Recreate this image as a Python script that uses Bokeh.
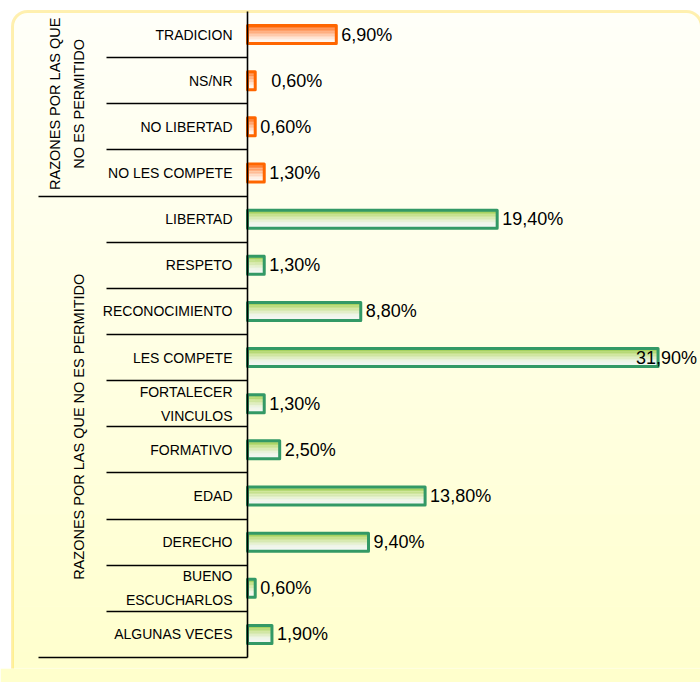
from bokeh.plotting import figure
from bokeh.models import (FactorRange, Range1d, CategoricalAxis, LinearAxis, FixedTicker,
                          BoxAnnotation, ColumnDataSource)
from bokeh.transform import dodge
from bokeh.core.properties import value
from bokeh.embed import file_html
from bokeh.resources import INLINE

# ---------------- data ----------------
group1_name = "RAZONES POR LAS QUE\nNO ES PERMITIDO"
group1_categories = ["TRADICION", "NS/NR", "NO LIBERTAD", "NO LES COMPETE"]
group1_values = [6.9, 0.6, 0.6, 1.3]

group2_name = "RAZONES POR LAS QUE NO ES PERMITIDO"
group2_categories = ["LIBERTAD", "RESPETO", "RECONOCIMIENTO", "LES COMPETE",
                     "FORTALECER\nVINCULOS", "FORMATIVO", "EDAD", "DERECHO",
                     "BUENO\nESCUCHARLOS", "ALGUNAS VECES"]
group2_values = [19.4, 1.3, 8.8, 31.9, 1.3, 2.5, 13.8, 9.4, 0.6, 1.9]

# label nudges (px) - styling only
group1_label_dx = [5, 16, 5, 5]
group2_label_dx = [5, 5, 5, -22, 5, 5, 5, 5, 5, 5]

SANS = "Liberation Sans"


def fmt(v):
    return f"{v:.2f}".replace(".", ",") + "%"


def hex2rgb(h):
    h = h.lstrip("#")
    return tuple(int(h[i:i + 2], 16) for i in (0, 2, 4))


def ramp(stops, t):
    for (p0, c0), (p1, c1) in zip(stops[:-1], stops[1:]):
        if p0 <= t <= p1:
            f = 0 if p1 == p0 else (t - p0) / (p1 - p0)
            a, b = hex2rgb(c0), hex2rgb(c1)
            return "#%02x%02x%02x" % tuple(round(a[k] + (b[k] - a[k]) * f) for k in range(3))
    return stops[-1][1]


all_categories = group1_categories + group2_categories
factors = list(reversed(all_categories))   # first category at the top
n1, n2 = len(group1_categories), len(group2_categories)

# ---------------- layout ----------------
W, H = 700, 682
BOTTOM_BORDER = 14
FRAME_H = H - BOTTOM_BORDER
TOP_GAP = 11                                   # space above the first row
ROW_PX = (FRAME_H - 2 * TOP_GAP) / len(factors)
PX_PER_UNIT = 12.87                            # horizontal scale, pixels per percent
LEFT_PX = 247                                  # room left of the bar base for the labels

p = figure(width=W, height=H, output_backend="svg", toolbar_location=None,
           y_range=FactorRange(factors=factors, range_padding=TOP_GAP / ROW_PX,
                               range_padding_units="absolute"),
           x_range=Range1d(-LEFT_PX / PX_PER_UNIT, (W - LEFT_PX) / PX_PER_UNIT),
           x_axis_location=None, y_axis_location=None,
           min_border_left=0, min_border_right=0, min_border_top=0,
           min_border_bottom=BOTTOM_BORDER)
p.grid.visible = False
p.outline_line_color = None
p.background_fill_color = "white"
p.border_fill_color = "#FFFFCC"

# ---------------- rounded gradient panel ----------------
box_l, box_r, box_t, box_b = 12, 701, 11, 740
NS = 44
grad_top, grad_bot = 11, H
step = (grad_bot - grad_top) / NS
bg_stops = [(0, "#FFFFF8"), (0.5, "#FFFFE4"), (1, "#FFFFCC")]
for i in range(NS):
    t0 = grad_top + i * step
    t1 = grad_top + (i + 1) * step + 0.6
    rad = (15, 15, 0, 0) if i == 0 else 0
    p.add_layout(BoxAnnotation(left=box_l, right=box_r, top=t0, bottom=t1,
                               left_units="canvas", right_units="canvas",
                               top_units="canvas", bottom_units="canvas",
                               fill_color=ramp(bg_stops, (i + 0.5) / NS), fill_alpha=1,
                               line_color=None, border_radius=rad, level="image"))
p.add_layout(BoxAnnotation(left=box_l, right=box_r, top=box_t, bottom=box_b,
                           left_units="canvas", right_units="canvas",
                           top_units="canvas", bottom_units="canvas",
                           fill_color=None, line_color="#FFCC00", line_width=3,
                           border_radius=15, level="underlay"))

# ---------------- left guides (anchored at the bar base) ----------------
short_seps = [k for k in range(1, n2)] + [n2 + k for k in range(1, n1)]
long_seps = [0, n2]

for seps, length in ((short_seps, 141), (long_seps, 209)):
    ax = LinearAxis(ticker=FixedTicker(ticks=[], minor_ticks=seps), fixed_location=0,
                    axis_line_color=None, major_tick_line_color=None,
                    minor_tick_out=length, minor_tick_in=0,
                    minor_tick_line_color="#000000", minor_tick_line_width=1.3)
    p.add_layout(ax, "left")

cat_axis = CategoricalAxis(fixed_location=0, bounds=(0, len(factors)),
                           axis_line_color="#000000", axis_line_width=1.6,
                           major_tick_out=0, major_tick_in=0, major_tick_line_color=None,
                           major_label_standoff=15,
                           major_label_text_font=SANS, major_label_text_font_size="14px",
                           major_label_text_color="#000000",
                           major_label_text_line_height=1.49)
p.add_layout(cat_axis, "left")

group_axis = LinearAxis(ticker=FixedTicker(ticks=[n2 / 2, n2 + n1 / 2]), fixed_location=0,
                        major_label_overrides={n2 / 2: group2_name, n2 + n1 / 2: group1_name},
                        major_label_orientation="vertical",
                        axis_line_color=None, major_tick_line_color=None,
                        major_tick_out=0, major_tick_in=0,
                        major_label_standoff=160,
                        major_label_text_font=SANS, major_label_text_font_size="14.5px",
                        major_label_text_color="#000000",
                        major_label_text_line_height=1.5)
p.add_layout(group_axis, "left")

# ---------------- bars ----------------
BAR_H = 0.39
NSL = 12


def draw_group(cats, vals, dxs, stops, edge):
    src = ColumnDataSource(dict(cat=cats, pct=vals, label=[fmt(v) for v in vals], dx=dxs))
    sl = BAR_H / NSL
    for i in range(NSL):
        off = BAR_H / 2 - (i + 0.5) * sl
        p.hbar(y=dodge("cat", off, range=p.y_range), left=0, right="pct",
               height=sl * 1.08, fill_color=ramp(stops, (i + 0.5) / NSL),
               line_color=None, source=src)
    p.hbar(y="cat", left=0, right="pct", height=BAR_H, fill_color=None,
           line_color=edge, line_width=3, line_join="round", source=src)
    p.text(x="pct", y="cat", text="label", x_offset="dx", source=src,
           text_align="left", text_baseline="middle", text_color="#000000",
           text_font=value(SANS), text_font_size="18px")


draw_group(group1_categories, group1_values, group1_label_dx,
           [(0, "#FF6A10"), (0.35, "#FFAA7A"), (0.75, "#FFEDE2"), (1, "#FFFFFF")], "#FF6600")
draw_group(group2_categories, group2_values, group2_label_dx,
           [(0, "#8DC63F"), (0.3, "#C8E290"), (0.7, "#EEF4E8"), (1, "#F5F7F9")], "#339966")

open("out.html", "w").write(file_html(p, INLINE))
